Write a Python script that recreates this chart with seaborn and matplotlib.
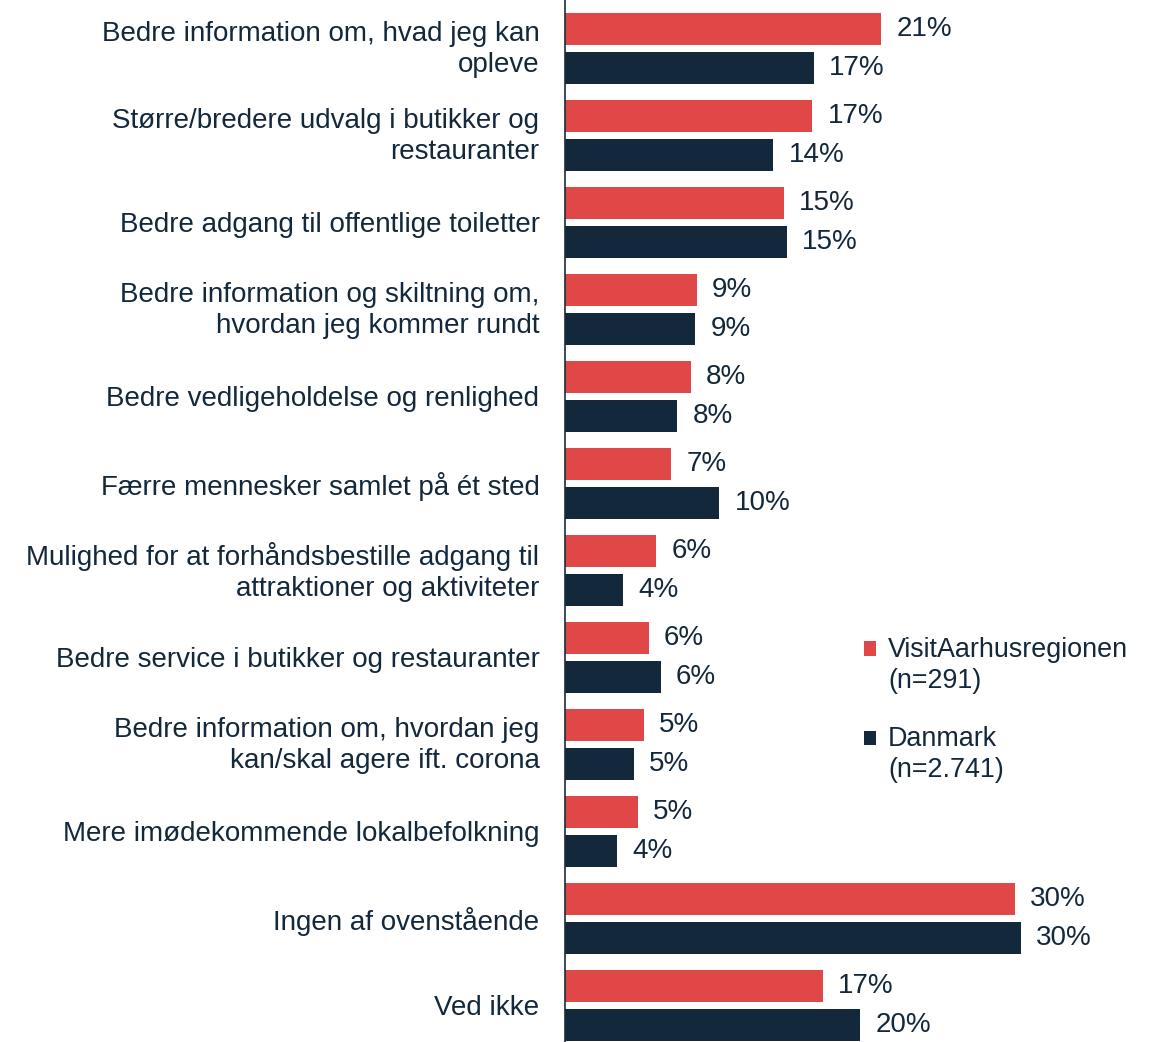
import matplotlib
matplotlib.use("Agg")
import matplotlib.pyplot as plt
import matplotlib.transforms as mtransforms
import seaborn as sns
import pandas as pd
from matplotlib.legend_handler import HandlerPatch
from matplotlib.patches import Rectangle

# Data (percent)
categories = [
    "Bedre information om, hvad jeg kan\nopleve",
    "Større/bredere udvalg i butikker og\nrestauranter",
    "Bedre adgang til offentlige toiletter",
    "Bedre information og skiltning om,\nhvordan jeg kommer rundt",
    "Bedre vedligeholdelse og renlighed",
    "Færre mennesker samlet på ét sted",
    "Mulighed for at forhåndsbestille adgang til\nattraktioner og aktiviteter",
    "Bedre service i butikker og restauranter",
    "Bedre information om, hvordan jeg\nkan/skal agere ift. corona",
    "Mere imødekommende lokalbefolkning",
    "Ingen af ovenstående",
    "Ved ikke",
]
aarhus = [21.1, 16.5, 14.6, 8.8, 8.4, 7.1, 6.1, 5.6, 5.3, 4.9, 30.0, 17.2]
danmark = [16.6, 13.9, 14.8, 8.7, 7.5, 10.3, 3.9, 6.4, 4.6, 3.5, 30.4, 19.7]
aarhus_labels = ["21%", "17%", "15%", "9%", "8%", "7%", "6%", "6%", "5%", "5%", "30%", "17%"]
danmark_labels = ["17%", "14%", "15%", "9%", "8%", "10%", "4%", "6%", "5%", "4%", "30%", "20%"]
series = ["VisitAarhusregionen\n(n=291)", "Danmark\n(n=2.741)"]

RED = "#E04848"
NAVY = "#14283C"

df = pd.DataFrame({
    "kategori": categories * 2,
    "andel": aarhus + danmark,
    "gruppe": [series[0]] * len(categories) + [series[1]] * len(categories),
})

sns.set_style("white")
plt.rcParams["font.family"] = ["Liberation Sans", "DejaVu Sans"]

fig = plt.figure(figsize=(11.55, 10.42), dpi=100)
ax = fig.add_axes([564.5 / 1155, 0, 590.5 / 1155, 1])

sns.barplot(data=df, x="andel", y="kategori", hue="gruppe", orient="h",
            palette=[RED, NAVY], saturation=1, width=0.9, gap=0.18,
            linewidth=0, ax=ax)

ax.bar_label(ax.containers[0], labels=aarhus_labels, padding=11, fontsize=20, color=NAVY)
ax.bar_label(ax.containers[1], labels=danmark_labels, padding=11, fontsize=20, color=NAVY)

ax.set_xlim(0, 39.33)
ax.set_ylim(11.42, -0.557)
ax.set_xlabel("")
ax.set_ylabel("")
ax.set_xticks([])
ax.tick_params(axis="y", length=0, pad=18, labelsize=20, labelcolor=NAVY)

# nudge two-line labels up a little so they sit centred like the original
lift = mtransforms.ScaledTranslation(0, 3 / 72, fig.dpi_scale_trans)
for lbl in ax.get_yticklabels():
    lbl.set_linespacing(1.25)
    if "\n" in lbl.get_text():
        lbl.set_transform(lbl.get_transform() + lift)

for side in ["top", "right", "bottom"]:
    ax.spines[side].set_visible(False)
ax.spines["left"].set_color("#1c2b3a")
ax.spines["left"].set_linewidth(1.2)


# legend square sits next to the first line of the two-line label
def top_square(legend, orig_handle, xdescent, ydescent, width, height, fontsize):
    return Rectangle((-xdescent, -ydescent + 12.5), width, height)


leg = ax.legend(loc="upper left", bbox_to_anchor=(864 / 1155, 1 - 637 / 1042),
                bbox_transform=fig.transFigure, frameon=False, fontsize=19.4,
                handlelength=0.45, handleheight=0.45, handletextpad=0.45,
                labelspacing=1.2, borderpad=0, borderaxespad=0,
                handler_map={Rectangle: HandlerPatch(patch_func=top_square)})
for t in leg.get_texts():
    t.set_color(NAVY)
    t.set_linespacing(1.25)

fig.savefig("out.png", dpi=100)
